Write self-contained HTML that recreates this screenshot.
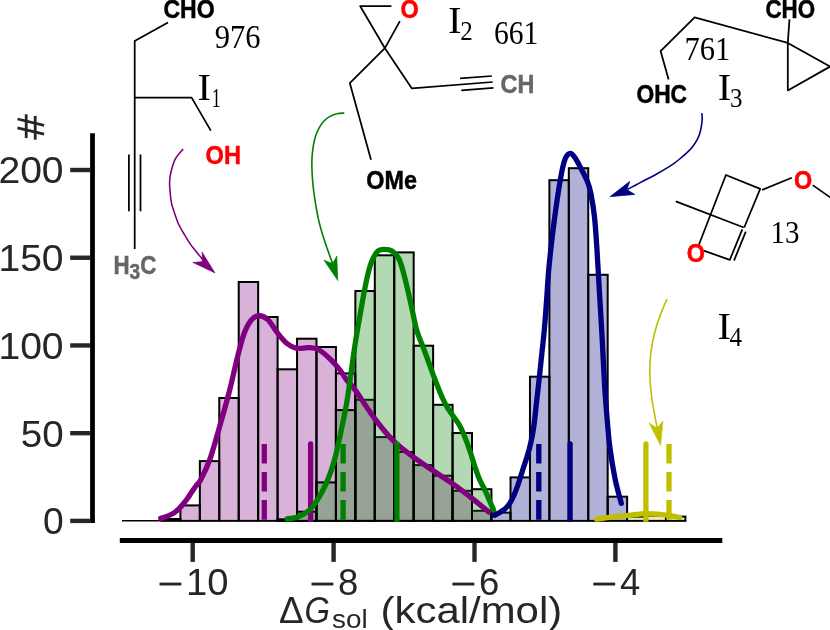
<!DOCTYPE html>
<html><head><meta charset="utf-8"><title>Histogram of solvation free energies</title>
<style>html,body{margin:0;padding:0;background:#fff;}svg{display:block;will-change:transform;}text{font-family:"Liberation Sans",sans-serif;}.ser{font-family:"Liberation Serif",serif;fill:#000;}.b{font-family:"Liberation Sans",sans-serif;font-weight:bold;font-size:23.4px;}.tk{font-family:"Liberation Sans",sans-serif;font-size:37.8px;fill:#262626;}</style></head><body>
<svg width="830" height="630" viewBox="0 0 830 630">
<rect x="0" y="0" width="830" height="630" fill="#ffffff"/>
<defs><clipPath id="ax"><rect x="100" y="120" width="640" height="401.7"/></clipPath></defs>
<g clip-path="url(#ax)" fill="#800080" fill-opacity="0.3" stroke="#000" stroke-width="2.0" stroke-linejoin="miter"><rect x="160.96" y="519.00" width="19.44" height="1.90"/><rect x="180.40" y="505.40" width="19.44" height="15.50"/><rect x="199.84" y="461.10" width="19.44" height="59.80"/><rect x="219.28" y="398.00" width="19.44" height="122.90"/><rect x="238.72" y="282.00" width="19.44" height="238.90"/><rect x="258.16" y="317.00" width="19.44" height="203.90"/><rect x="277.60" y="369.30" width="19.44" height="151.60"/><rect x="297.04" y="338.70" width="19.44" height="182.20"/><rect x="316.48" y="347.00" width="19.44" height="173.90"/><rect x="335.92" y="373.40" width="19.44" height="147.50"/><rect x="355.36" y="399.80" width="19.44" height="121.10"/><rect x="374.80" y="437.10" width="19.44" height="83.80"/><rect x="394.24" y="452.00" width="19.44" height="68.90"/><rect x="413.68" y="465.10" width="19.44" height="55.80"/><rect x="433.12" y="475.70" width="19.44" height="45.20"/><rect x="452.56" y="490.80" width="19.44" height="30.10"/><rect x="472.00" y="510.80" width="19.44" height="10.10"/></g>
<g clip-path="url(#ax)" fill="#008000" fill-opacity="0.3" stroke="#000" stroke-width="2.0" stroke-linejoin="miter"><rect x="277.60" y="519.30" width="19.44" height="1.60"/><rect x="297.04" y="511.70" width="19.44" height="9.20"/><rect x="316.48" y="482.40" width="19.44" height="38.50"/><rect x="335.92" y="410.10" width="19.44" height="110.80"/><rect x="355.36" y="291.00" width="19.44" height="229.90"/><rect x="374.80" y="255.30" width="19.44" height="265.60"/><rect x="394.24" y="252.40" width="19.44" height="268.50"/><rect x="413.68" y="345.70" width="19.44" height="175.20"/><rect x="433.12" y="404.80" width="19.44" height="116.10"/><rect x="452.56" y="433.00" width="19.44" height="87.90"/><rect x="472.00" y="489.20" width="19.44" height="31.70"/></g>
<g clip-path="url(#ax)" fill="#000080" fill-opacity="0.3" stroke="#000" stroke-width="2.0" stroke-linejoin="miter"><rect x="491.10" y="512.60" width="19.43" height="8.30"/><rect x="510.53" y="477.40" width="19.43" height="43.50"/><rect x="529.96" y="376.70" width="19.43" height="144.20"/><rect x="549.39" y="180.20" width="19.43" height="340.70"/><rect x="568.82" y="168.20" width="19.43" height="352.70"/><rect x="588.25" y="274.80" width="19.43" height="246.10"/><rect x="607.68" y="496.70" width="19.43" height="24.20"/></g>
<g clip-path="url(#ax)" fill="#BFBF00" fill-opacity="0.3" stroke="#000" stroke-width="2.0" stroke-linejoin="miter"><rect x="627.10" y="516.60" width="19.43" height="4.30"/><rect x="646.53" y="515.60" width="19.43" height="5.30"/><rect x="665.96" y="516.60" width="19.43" height="4.30"/></g>
<line x1="122" y1="520.70" x2="686.3" y2="520.70" stroke="#000" stroke-width="1.4"/>
<path d="M160.7,518.4 C161.8,518.1 164.8,517.3 167.0,516.4 C169.2,515.5 172.1,514.2 174.1,512.9 C176.1,511.6 177.4,510.3 179.0,508.7 C180.6,507.1 182.2,505.1 183.7,503.3 C185.2,501.5 186.6,499.7 188.0,497.7 C189.4,495.7 190.8,493.3 192.2,491.2 C193.6,489.1 195.1,487.1 196.5,485.2 C197.9,483.3 198.3,484.4 200.6,480.0 C202.8,475.6 206.5,469.0 210.0,459.0 C213.5,449.0 218.2,431.4 221.5,420.0 C224.8,408.6 227.1,400.2 229.6,390.5 C232.1,380.8 234.1,370.9 236.4,361.6 C238.7,352.4 241.2,341.8 243.6,335.0 C246.0,328.2 248.4,323.8 250.8,320.6 C253.2,317.4 255.3,316.0 258.1,315.8 C260.9,315.6 264.5,316.6 267.7,319.4 C270.9,322.2 274.1,328.7 277.3,332.7 C280.5,336.7 283.8,340.9 287.0,343.5 C290.2,346.1 293.0,347.6 296.6,348.3 C300.2,349.0 305.1,347.4 308.7,347.6 C312.3,347.8 314.7,347.6 318.3,349.5 C321.9,351.4 326.8,355.8 330.4,359.2 C334.0,362.6 337.3,366.5 340.0,370.0 C342.7,373.5 344.0,376.7 346.5,380.0 C349.0,383.3 350.2,383.2 354.9,389.6 C359.6,396.0 368.2,410.0 374.7,418.6 C381.2,427.2 387.5,435.0 394.0,441.4 C400.5,447.8 407.0,452.3 413.5,457.1 C420.0,461.9 426.3,466.0 432.8,470.4 C439.3,474.8 446.0,479.0 452.5,483.6 C459.0,488.2 465.8,493.4 471.8,498.1 C477.8,502.8 485.9,509.7 488.7,512.0" fill="none" stroke="#800080" stroke-width="5.3" stroke-linecap="round" stroke-linejoin="round"/>
<line clip-path="url(#ax)" x1="310.6" y1="443.9" x2="310.6" y2="520.9" stroke="#800080" stroke-width="5.3" stroke-linecap="round"/>
<line clip-path="url(#ax)" x1="264.3" y1="443.9" x2="264.3" y2="521.5" stroke="#800080" stroke-width="5.3" stroke-dasharray="19.6 8.5"/>
<path d="M287.0,518.9 C288.5,518.7 293.2,518.3 296.0,517.5 C298.8,516.7 301.4,515.6 303.9,514.1 C306.4,512.6 308.6,511.1 311.0,508.5 C313.4,505.9 316.0,502.1 318.3,498.4 C320.6,494.6 323.0,490.2 325.0,486.0 C327.0,481.8 328.7,477.7 330.4,473.0 C332.1,468.3 333.5,463.8 335.0,458.0 C336.5,452.2 337.7,447.0 339.6,438.0 C341.5,429.0 344.8,413.8 346.5,404.1 C348.2,394.4 348.7,389.7 350.1,380.0 C351.5,370.3 353.1,357.4 354.9,345.7 C356.7,333.9 359.0,320.8 361.0,309.5 C363.0,298.2 365.2,286.2 367.0,278.2 C368.8,270.2 370.0,265.8 371.8,261.3 C373.6,256.8 375.8,253.2 377.8,251.2 C379.8,249.2 381.5,249.3 383.9,249.3 C386.3,249.3 389.7,249.4 392.3,251.2 C394.9,253.0 397.3,255.2 399.5,260.1 C401.7,265.0 403.5,272.8 405.5,280.6 C407.5,288.4 409.7,298.9 411.6,307.1 C413.5,315.3 414.7,323.0 416.7,330.0 C418.7,337.0 421.8,343.7 423.8,349.0 C425.8,354.3 427.0,357.6 428.6,362.0 C430.2,366.4 431.7,370.9 433.3,375.2 C434.9,379.4 436.5,383.5 438.1,387.5 C439.7,391.5 441.4,395.8 442.9,399.0 C444.4,402.2 445.6,404.4 447.0,406.8 C448.4,409.2 449.8,411.2 451.2,413.3 C452.6,415.4 454.0,417.3 455.4,419.3 C456.8,421.3 458.2,422.9 459.5,425.2 C460.8,427.5 462.0,430.2 463.2,433.0 C464.4,435.8 465.5,438.7 466.7,441.9 C467.9,445.1 469.1,448.4 470.3,452.0 C471.5,455.6 472.8,460.1 473.8,463.3 C474.8,466.5 475.4,468.2 476.4,471.0 C477.4,473.8 478.4,476.9 479.8,480.0 C481.2,483.1 483.1,486.2 484.6,489.3 C486.1,492.4 487.1,495.0 488.6,498.5 C490.1,502.0 492.8,508.2 493.6,510.1" fill="none" stroke="#008000" stroke-width="5.3" stroke-linecap="round" stroke-linejoin="round"/>
<line clip-path="url(#ax)" x1="396.9" y1="443.9" x2="396.9" y2="520.9" stroke="#008000" stroke-width="5.3" stroke-linecap="round"/>
<line clip-path="url(#ax)" x1="343.1" y1="443.9" x2="343.1" y2="521.5" stroke="#008000" stroke-width="5.3" stroke-dasharray="19.6 8.5"/>
<path d="M494.7,515.3 C495.7,514.7 498.7,513.0 500.5,511.9 C502.3,510.8 503.7,510.1 505.3,508.6 C506.9,507.1 508.7,505.1 510.1,502.8 C511.6,500.6 512.7,498.0 514.0,495.1 C515.3,492.2 516.3,489.6 517.8,485.4 C519.2,481.2 521.3,474.4 522.7,470.0 C524.1,465.6 525.2,462.5 526.3,459.0 C527.4,455.5 528.3,452.7 529.3,449.0 C530.2,445.3 531.2,441.0 532.0,437.0 C532.8,433.0 533.2,431.4 534.0,425.2 C534.8,419.0 535.9,407.9 536.8,400.0 C537.7,392.1 538.5,385.3 539.3,377.6 C540.1,369.9 541.0,361.9 541.8,354.0 C542.6,346.1 543.5,339.0 544.3,330.0 C545.1,321.0 545.9,310.0 546.6,300.0 C547.3,290.0 547.8,280.6 548.7,270.0 C549.7,259.4 550.9,248.0 552.3,236.4 C553.7,224.8 555.5,211.0 557.1,200.2 C558.7,189.3 560.5,178.3 561.9,171.3 C563.3,164.3 564.1,161.1 565.5,158.1 C566.9,155.1 568.8,153.3 570.4,153.3 C572.0,153.3 573.4,155.5 575.2,158.1 C577.0,160.7 579.2,165.1 581.2,168.9 C583.2,172.7 585.6,177.0 587.2,181.0 C588.8,185.0 589.6,187.0 590.8,193.0 C592.0,199.0 593.5,207.9 594.5,217.1 C595.5,226.3 596.1,236.3 596.9,248.4 C597.7,260.5 598.5,276.3 599.3,289.9 C600.1,303.5 600.8,314.3 601.7,330.2 C602.6,346.1 603.7,370.1 604.6,385.0 C605.5,399.9 606.3,409.4 607.2,419.9 C608.1,430.3 608.6,437.8 609.9,447.7 C611.2,457.6 613.3,470.2 615.2,479.5 C617.1,488.8 620.3,499.4 621.3,503.4" fill="none" stroke="#000080" stroke-width="5.3" stroke-linecap="round" stroke-linejoin="round"/>
<line clip-path="url(#ax)" x1="570.1" y1="443.9" x2="570.1" y2="520.9" stroke="#000080" stroke-width="5.3" stroke-linecap="round"/>
<line clip-path="url(#ax)" x1="538.8" y1="443.9" x2="538.8" y2="521.5" stroke="#000080" stroke-width="5.3" stroke-dasharray="19.6 8.5"/>
<path d="M596.4,519.0 C598.7,518.7 604.7,518.0 610.0,517.4 C615.3,516.8 622.4,515.9 628.4,515.3 C634.4,514.7 640.4,513.8 645.7,513.6 C651.0,513.4 656.0,514.0 660.0,514.3 C664.0,514.6 666.7,515.1 670.0,515.6 C673.3,516.1 678.0,517.2 679.6,517.5" fill="none" stroke="#BFBF00" stroke-width="5.3" stroke-linecap="round" stroke-linejoin="round"/>
<line clip-path="url(#ax)" x1="645.9" y1="443.9" x2="645.9" y2="520.9" stroke="#BFBF00" stroke-width="5.3" stroke-linecap="round"/>
<line clip-path="url(#ax)" x1="669.0" y1="443.9" x2="669.0" y2="521.5" stroke="#BFBF00" stroke-width="5.3" stroke-dasharray="19.6 8.5"/>
<g stroke="#000" stroke-width="4.8" stroke-linecap="butt">
<line x1="92.5" y1="133.3" x2="92.5" y2="522.9"/>
<line x1="119.8" y1="540.5" x2="722.3" y2="540.5"/>
</g>
<g stroke="#262626" stroke-width="4.4">
<line x1="70.2" y1="520.90" x2="90.3" y2="520.90"/>
<line x1="70.2" y1="433.17" x2="90.3" y2="433.17"/>
<line x1="70.2" y1="345.45" x2="90.3" y2="345.45"/>
<line x1="70.2" y1="257.72" x2="90.3" y2="257.72"/>
<line x1="70.2" y1="170.00" x2="90.3" y2="170.00"/>
<line x1="192.70" y1="542.7" x2="192.70" y2="561.9"/>
<line x1="333.60" y1="542.7" x2="333.60" y2="561.9"/>
<line x1="474.50" y1="542.7" x2="474.50" y2="561.9"/>
<line x1="615.40" y1="542.7" x2="615.40" y2="561.9"/>
</g>
<text class="tk" x="63.6" y="534.3" text-anchor="end" textLength="20.7" lengthAdjust="spacingAndGlyphs">0</text>
<text class="tk" x="63.6" y="446.6" text-anchor="end" textLength="42.9" lengthAdjust="spacingAndGlyphs">50</text>
<text class="tk" x="63.6" y="358.8" text-anchor="end" textLength="65.2" lengthAdjust="spacingAndGlyphs">100</text>
<text class="tk" x="63.6" y="271.1" text-anchor="end" textLength="65.2" lengthAdjust="spacingAndGlyphs">150</text>
<text class="tk" x="63.6" y="183.4" text-anchor="end" textLength="65.2" lengthAdjust="spacingAndGlyphs">200</text>
<rect x="159.5" y="582.6" width="21.9" height="2.9" fill="#262626"/>
<text class="tk" x="186.1" y="594.9" textLength="42.5" lengthAdjust="spacingAndGlyphs">10</text>
<rect x="311.5" y="582.6" width="21.9" height="2.9" fill="#262626"/>
<text class="tk" x="338.1" y="594.9" textLength="20.3" lengthAdjust="spacingAndGlyphs">8</text>
<rect x="452.4" y="582.6" width="21.9" height="2.9" fill="#262626"/>
<text class="tk" x="479.0" y="594.9" textLength="20.3" lengthAdjust="spacingAndGlyphs">6</text>
<rect x="593.3" y="582.6" width="21.9" height="2.9" fill="#262626"/>
<text class="tk" x="619.9" y="594.9" textLength="20.3" lengthAdjust="spacingAndGlyphs">4</text>
<g stroke="#262626" stroke-width="2.8" stroke-linecap="butt" fill="none">
<line x1="26.2" y1="114.3" x2="26.2" y2="138.1"/><line x1="35.2" y1="115.9" x2="35.2" y2="139.7"/>
<line x1="17.5" y1="119.0" x2="44.1" y2="125.4"/><line x1="17.5" y1="127.8" x2="44.1" y2="134.1"/>
</g>
<text class="tk" x="279.0" y="623.3" textLength="24.6" lengthAdjust="spacingAndGlyphs" style="font-size:37.5px">Δ</text>
<text class="tk" x="304.6" y="623.3" textLength="25.5" lengthAdjust="spacingAndGlyphs" font-style="italic" style="font-size:37.5px">G</text>
<text class="tk" x="332.0" y="628.4" style="font-size:26.5px" textLength="35.6" lengthAdjust="spacingAndGlyphs">sol</text>
<text class="tk" x="380.6" y="623.3" textLength="181.6" lengthAdjust="spacingAndGlyphs" style="font-size:37.5px">(kcal/mol)</text>
<path d="M183.2,149.0 C181.9,150.7 177.3,155.2 175.2,159.2 C173.1,163.2 171.6,169.4 170.7,173.2 C169.8,177.0 169.7,178.9 169.6,182.0 C169.5,185.1 169.8,188.4 170.1,192.0 C170.4,195.6 170.9,200.3 171.6,203.7 C172.3,207.1 173.2,209.0 174.3,212.4 C175.5,215.8 176.8,220.2 178.5,224.0 C180.2,227.8 182.8,231.8 184.8,235.2 C186.8,238.6 188.6,241.6 190.5,244.4 C192.4,247.2 194.5,249.5 196.5,252.0 C198.5,254.5 201.3,257.9 202.6,259.5 C203.8,261.1 203.8,261.2 204.0,261.6" fill="none" stroke="#800080" stroke-width="1.6"/>
<path d="M215.0,272.9 L192.9,262.5 L202.4,261.6 L202.1,252.1 Z" fill="#800080" stroke="#800080" stroke-width="0.6" stroke-linejoin="miter"/>
<path d="M344.3,113.1 C343.1,113.2 339.4,113.2 337.0,113.8 C334.6,114.3 332.3,115.2 330.1,116.4 C327.9,117.6 325.8,119.2 324.0,121.0 C322.2,122.8 320.8,124.8 319.4,127.3 C318.0,129.8 316.6,133.0 315.6,136.0 C314.6,139.0 314.0,142.1 313.4,145.4 C312.8,148.7 312.4,152.5 312.1,156.0 C311.9,159.5 311.8,162.6 311.9,166.3 C311.9,170.0 312.1,174.0 312.4,178.0 C312.7,182.0 313.1,186.1 313.6,190.4 C314.1,194.7 314.9,199.5 315.6,204.0 C316.4,208.5 317.2,213.3 318.1,217.6 C319.0,221.9 320.1,226.1 321.2,230.0 C322.3,233.9 323.4,237.2 324.6,241.0 C325.8,244.8 327.3,248.8 328.6,252.5 C329.9,256.2 331.9,261.6 332.6,263.4" fill="none" stroke="#008000" stroke-width="1.6"/>
<path d="M337.8,280.6 L323.9,260.2 L332.6,263.4 L336.8,256.1 Z" fill="#008000" stroke="#008000" stroke-width="0.6" stroke-linejoin="miter"/>
<path d="M701.8,113.1 C701.9,114.1 702.3,117.0 702.2,119.2 C702.1,121.4 701.8,123.7 701.4,126.2 C701.0,128.7 700.4,131.8 699.6,134.1 C698.9,136.4 698.1,138.1 696.9,140.2 C695.7,142.3 694.2,144.8 692.6,146.8 C691.0,148.8 689.3,150.5 687.3,152.4 C685.2,154.3 682.6,156.6 680.3,158.5 C678.0,160.4 675.9,162.1 673.4,163.8 C670.9,165.5 668.1,167.3 665.5,168.9 C662.9,170.5 660.1,172.1 657.6,173.5 C655.1,174.9 653.0,176.0 650.7,177.2 C648.4,178.4 646.0,179.6 643.7,180.8 C641.4,182.0 639.4,183.1 636.7,184.5 C634.0,185.9 629.0,188.6 627.4,189.4" fill="none" stroke="#000080" stroke-width="1.6"/>
<path d="M609.9,196.7 L629.8,181.3 L627.0,189.6 L634.9,194.5 Z" fill="#000080" stroke="#000080" stroke-width="0.6" stroke-linejoin="miter"/>
<path d="M667.1,299.1 C640.3,354.7 650.6,394.3 658.8,436.1" fill="none" stroke="#BFBF00" stroke-width="1.6"/>
<path d="M660.6,445.6 L649.3,423.3 L657.2,428.0 L662.9,421.1 Z" fill="#BFBF00" stroke="#BFBF00" stroke-width="0.6" stroke-linejoin="miter"/>
<g stroke="#000" stroke-width="1.75" fill="none" stroke-linecap="butt" stroke-linejoin="round">
<path d="M168,22.4 L134.7,41 L134.7,249"/>
<path d="M134.7,97.6 L191.6,97.6 L210.8,130.6"/>
<path d="M128.9,154.5 L128.9,211.2 M140.5,154.5 L140.5,211.2"/>
<path d="M391.4,6.0 L360.1,6.0 L384.9,48.2 L399.9,21.2"/>
<path d="M384.9,48.2 L349.8,83.1 L371,159.8"/>
<path d="M384.9,48.2 L411.9,88.4 L492.7,82.0"/>
<path d="M460.1,78.4 L491.9,76.0 M461.3,90.4 L493.4,87.8"/>
<path d="M789.5,19.3 L787.8,42.9 L694.6,17.3 L660.6,51.1 L668.6,79.5"/>
<path d="M787.8,42.9 L832,67.5 M832,65.5 L787.8,90.4 L787.8,42.9"/>
<path d="M698.9,244.8 L725.9,175 L760.2,188.9 L744.2,227.5"/>
<path d="M675.8,201.4 L743.8,227.5"/>
<path d="M703.7,250.6 L729.8,259.9 L742.3,229.4 M734,260.6 L745.8,231.7"/>
<path d="M762.1,189.9 L791.8,177.7 M812.7,185.1 L832,198.6"/>
</g>
<text class="b" transform="translate(163.4,18.0) scale(0.985,1.090)" fill="#000" stroke="#000" stroke-width="0.45">CHO</text>
<text class="b" transform="translate(205.6,164.0) scale(1.010,1.090)" fill="#ff0000" stroke="#ff0000" stroke-width="0.45">OH</text>
<text class="b" transform="translate(113.4,273.8) scale(0.955,1.090)" fill="#666666" stroke="#666666" stroke-width="0.45">H<tspan dy="4.6" style="font-size:20px">3</tspan><tspan dy="-4.6">C</tspan></text>
<text class="b" transform="translate(400.6,18.0) scale(1.000,1.090)" fill="#ff0000" stroke="#ff0000" stroke-width="0.45">O</text>
<text class="b" transform="translate(500.6,92.5) scale(1.000,1.090)" fill="#666666" stroke="#666666" stroke-width="0.45">CH</text>
<text class="b" transform="translate(366.2,189.0) scale(1.000,1.090)" fill="#000" stroke="#000" stroke-width="0.45">OMe</text>
<text class="b" transform="translate(765.4,18.0) scale(0.955,1.090)" fill="#000" stroke="#000" stroke-width="0.45">CHO</text>
<text class="b" transform="translate(636.4,103.1) scale(0.975,1.090)" fill="#000" stroke="#000" stroke-width="0.45">OHC</text>
<text class="b" transform="translate(686.8,262.2) scale(1.000,1.090)" fill="#ff0000" stroke="#ff0000" stroke-width="0.45">O</text>
<text class="b" transform="translate(794.0,188.9) scale(1.000,1.090)" fill="#ff0000" stroke="#ff0000" stroke-width="0.45">O</text>
<text class="ser" transform="translate(214.8,48.0) scale(1.000,1.070)" style="font-size:30.5px">976</text>
<text class="ser" transform="translate(494.0,44.0) scale(0.970,1.070)" style="font-size:30.5px">661</text>
<text class="ser" transform="translate(684.4,60.0) scale(1.000,1.070)" style="font-size:30.5px">761</text>
<text class="ser" transform="translate(770.6,243.4) scale(0.950,1.030)" style="font-size:30.5px">13</text>
<text class="ser" transform="translate(197.6,100.0) scale(1.08,1.0)" style="font-size:37.5px">I</text>
<text class="ser" transform="translate(211.8,107.2) scale(0.72,1.12)" style="font-size:25px">1</text>
<text class="ser" transform="translate(448.0,32.8) scale(1.08,1.0)" style="font-size:37.5px">I</text>
<text class="ser" transform="translate(460.2,40.0) scale(1.00,1.12)" style="font-size:25px">2</text>
<text class="ser" transform="translate(717.8,100.0) scale(1.08,1.0)" style="font-size:37.5px">I</text>
<text class="ser" transform="translate(730.0,107.2) scale(1.00,1.12)" style="font-size:25px">3</text>
<text class="ser" transform="translate(717.4,339.2) scale(1.08,1.0)" style="font-size:37.5px">I</text>
<text class="ser" transform="translate(729.6,346.4) scale(1.00,1.12)" style="font-size:25px">4</text>
</svg></body></html>
